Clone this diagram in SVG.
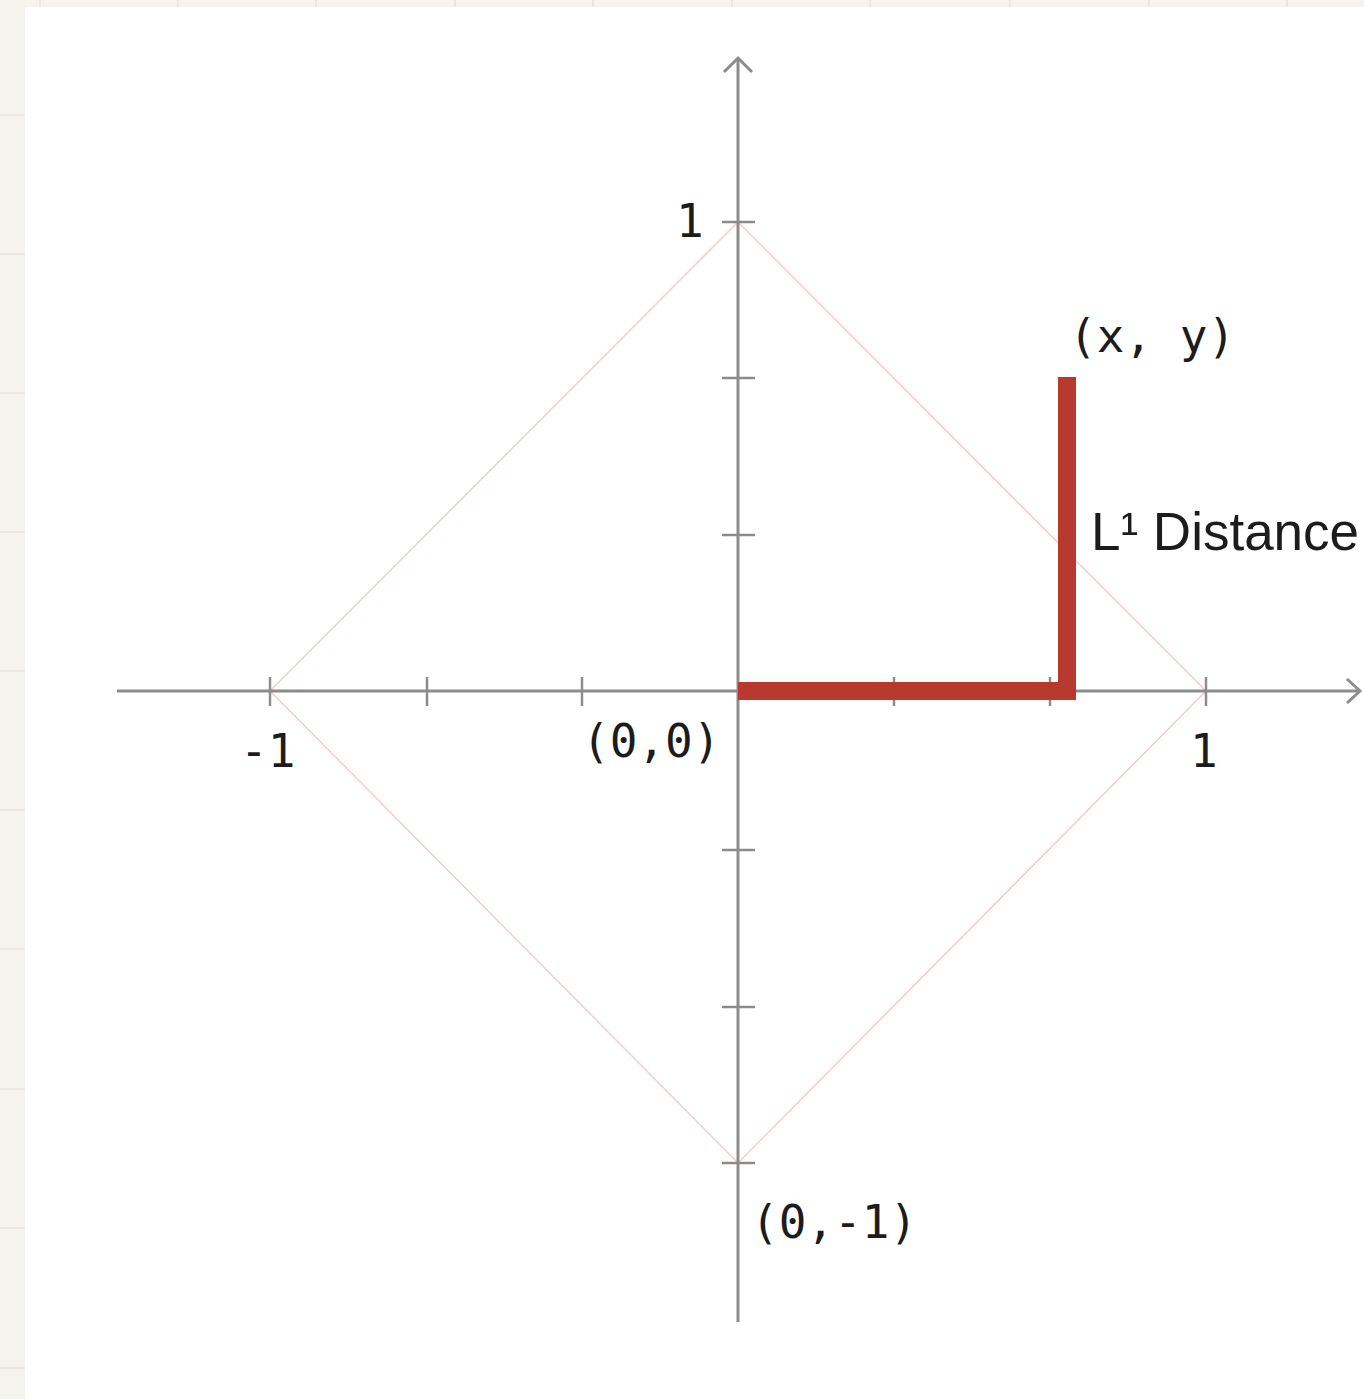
<svg xmlns="http://www.w3.org/2000/svg" width="1364" height="1399" viewBox="0 0 1364 1399">
  <style>
    .axis { stroke: #8c8c8c; stroke-width: 3; fill: none; }
    .tick { stroke: #8c8c8c; stroke-width: 2.5; }
    .diamond { stroke: #f2cdcd; stroke-width: 1.5; fill: none; }
    .grid { stroke: #e9e7e0; stroke-width: 2; }
    .mono { font-family: "DejaVu Sans Mono", "Liberation Mono", monospace; font-size: 46px; fill: #1c1c1c; }
    .sans { font-family: "Liberation Sans", Arial, sans-serif; font-size: 53px; fill: #1c1c1c; }
  </style>
  <rect x="0" y="0" width="1364" height="1399" fill="#f4f3ee"/>
  <g id="bg-grid">
    <line class="grid" x1="40" y1="0" x2="40" y2="7"/>
    <line class="grid" x1="178" y1="0" x2="178" y2="7"/>
    <line class="grid" x1="316" y1="0" x2="316" y2="7"/>
    <line class="grid" x1="455" y1="0" x2="455" y2="7"/>
    <line class="grid" x1="593" y1="0" x2="593" y2="7"/>
    <line class="grid" x1="732" y1="0" x2="732" y2="7"/>
    <line class="grid" x1="870" y1="0" x2="870" y2="7"/>
    <line class="grid" x1="1010" y1="0" x2="1010" y2="7"/>
    <line class="grid" x1="1149" y1="0" x2="1149" y2="7"/>
    <line class="grid" x1="1287" y1="0" x2="1287" y2="7"/>
    <line class="grid" x1="0" y1="115" x2="25" y2="115"/>
    <line class="grid" x1="0" y1="254" x2="25" y2="254"/>
    <line class="grid" x1="0" y1="393" x2="25" y2="393"/>
    <line class="grid" x1="0" y1="532" x2="25" y2="532"/>
    <line class="grid" x1="0" y1="671" x2="25" y2="671"/>
    <line class="grid" x1="0" y1="810" x2="25" y2="810"/>
    <line class="grid" x1="0" y1="949" x2="25" y2="949"/>
    <line class="grid" x1="0" y1="1089" x2="25" y2="1089"/>
    <line class="grid" x1="0" y1="1228" x2="25" y2="1228"/>
    <line class="grid" x1="0" y1="1368" x2="25" y2="1368"/>
  </g>
  <rect x="25" y="7" width="1339" height="1392" fill="#ffffff"/>

  <g id="diamond">
    <polygon class="diamond" points="270,691 738,222 1206,691 738,1163"/>
  </g>

  <g id="connectors">
    <line class="axis" x1="117" y1="691" x2="1359" y2="691"/>
    <polyline class="axis" points="1347,679 1360,691 1347,703"/>
    <line class="axis" x1="738" y1="1322" x2="738" y2="59"/>
    <polyline class="axis" points="724,72 738,58 752,72"/>
    <g id="x-ticks">
      <line class="tick" x1="270" y1="677" x2="270" y2="706"/>
      <line class="tick" x1="427" y1="677" x2="427" y2="706"/>
      <line class="tick" x1="582" y1="677" x2="582" y2="706"/>
      <line class="tick" x1="894" y1="677" x2="894" y2="706"/>
      <line class="tick" x1="1050" y1="677" x2="1050" y2="706"/>
      <line class="tick" x1="1206" y1="677" x2="1206" y2="706"/>
    </g>
    <g id="y-ticks">
      <line class="tick" x1="722" y1="222" x2="755" y2="222"/>
      <line class="tick" x1="722" y1="378" x2="755" y2="378"/>
      <line class="tick" x1="722" y1="535" x2="755" y2="535"/>
      <line class="tick" x1="722" y1="850" x2="755" y2="850"/>
      <line class="tick" x1="722" y1="1007" x2="755" y2="1007"/>
      <line class="tick" x1="722" y1="1163" x2="755" y2="1163"/>
    </g>
  </g>

  <g id="l1-path">
    <polyline points="738,691 1067,691 1067,377" fill="none" stroke="#b83a2e" stroke-width="18" stroke-linejoin="miter" stroke-linecap="butt"/>
  </g>

  <g id="labels">
    <text class="mono" x="676" y="237">1</text>
    <text class="mono" x="240" y="767">-1</text>
    <text class="mono" x="1190" y="767">1</text>
    <text class="mono" x="582" y="757">(0,0)</text>
    <text class="mono" x="751" y="1238">(0,-1)</text>
    <text class="mono" x="1069" y="352">(x, y)</text>
    <text class="sans" x="1091" y="550">L¹ Distance</text>
  </g>
</svg>
